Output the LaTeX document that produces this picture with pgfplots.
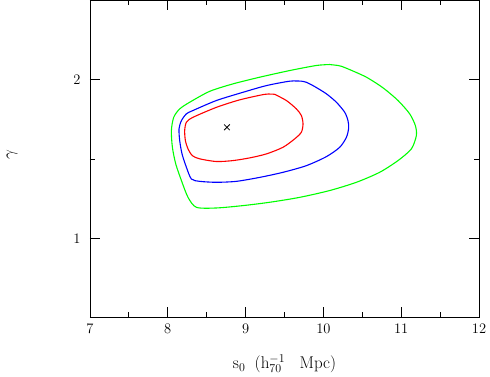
\documentclass[border=0pt]{standalone}
\usepackage{pgfplots}
\pgfplotsset{compat=1.18}

\begin{document}
\begin{tikzpicture}
  \useasboundingbox (-90pt,-59pt) rectangle (400pt,317.5pt);
  \begin{axis}[
    at={(0pt,0pt)}, anchor=south west,
    scale only axis, width=389pt, height=317pt,
    xmin=7, xmax=12, ymin=0.5, ymax=2.5,
    xtick={7,8,9,10,11,12}, ytick={1,2},
    minor xtick={7.5,8.5,9.5,10.5,11.5},
    minor ytick={0.5,1.5,2.5},
    tick align=inside, tick pos=both,
    major tick length=10pt, minor tick length=5pt,
    axis line style={line width=0.8pt},
    tick style={line width=0.8pt, black},
    /pgf/number format/assume math mode=true,
    ticklabel style={font=\fontsize{14.5}{16}\selectfont},
    xticklabel style={yshift=-2.5pt},
    yticklabel style={xshift=-6pt},
    every axis x label/.style={at={(axis description cs:0.5,0)},
      anchor=base, yshift=-51pt, font=\fontsize{17}{20}\selectfont},
    every axis y label/.style={at={(axis description cs:0,0.5)},
      xshift=-78pt, yshift=4pt, rotate=90, anchor=center, inner sep=0pt,
      font=\fontsize{18}{21}\selectfont},
    xlabel={s$_0$\hspace{0.55em}(h$_{70}^{-1}$\hspace{0.85em}Mpc)},
    ylabel={$\gamma$},
  ]
    % outer contour
    \addplot[color=green, line width=1.1pt, smooth, tension=0.45] coordinates {
      (10.081,2.096) (10.188,2.090) (10.231,2.085) (10.338,2.064)
      (10.553,2.016) (10.766,1.949) (10.959,1.869) (11.109,1.785)
      (11.182,1.711) (11.195,1.648) (11.131,1.564) (10.959,1.490)
      (10.723,1.416) (10.424,1.353) (10.081,1.301) (9.695,1.258)
      (9.310,1.227) (8.967,1.206) (8.625,1.191) (8.368,1.195)
      (8.260,1.258) (8.175,1.364) (8.102,1.469) (8.059,1.574)
      (8.046,1.679) (8.076,1.763) (8.153,1.816) (8.281,1.858)
      (8.539,1.927) (8.838,1.974) (9.181,2.016) (9.567,2.058)
      (9.910,2.090) (10.081,2.096)
    };
    % middle contour
    \addplot[color=blue, line width=1.1pt, smooth, tension=0.45] coordinates {
      (9.717,1.991) (9.781,1.984) (9.888,1.957) (10.039,1.911)
      (10.167,1.858) (10.274,1.795) (10.316,1.742) (10.325,1.696)
      (10.296,1.637) (10.210,1.574) (10.039,1.515) (9.781,1.458)
      (9.481,1.416) (9.181,1.384) (8.882,1.359) (8.625,1.353)
      (8.410,1.359) (8.303,1.374) (8.239,1.448) (8.183,1.532)
      (8.153,1.616) (8.144,1.690) (8.175,1.742) (8.239,1.785)
      (8.324,1.806) (8.625,1.869) (8.967,1.921) (9.267,1.963)
      (9.567,1.991) (9.717,1.991)
    };
    % inner contour
    \addplot[color=red, line width=1.1pt, smooth, tension=0.45] coordinates {
      (9.374,1.908) (9.524,1.869) (9.653,1.816) (9.717,1.774)
      (9.738,1.722) (9.717,1.669) (9.631,1.627) (9.481,1.574)
      (9.267,1.532) (9.053,1.507) (8.838,1.490) (8.625,1.484)
      (8.410,1.501) (8.316,1.521) (8.260,1.564) (8.226,1.616)
      (8.217,1.679) (8.239,1.732) (8.324,1.763) (8.625,1.826)
      (8.924,1.873) (9.246,1.908) (9.374,1.908)
    };
    % best fit
    \addplot[only marks, mark=x, mark size=4pt, black,
             mark options={line width=0.8pt}] coordinates {(8.76,1.70)};
  \end{axis}
\end{tikzpicture}
\end{document}
